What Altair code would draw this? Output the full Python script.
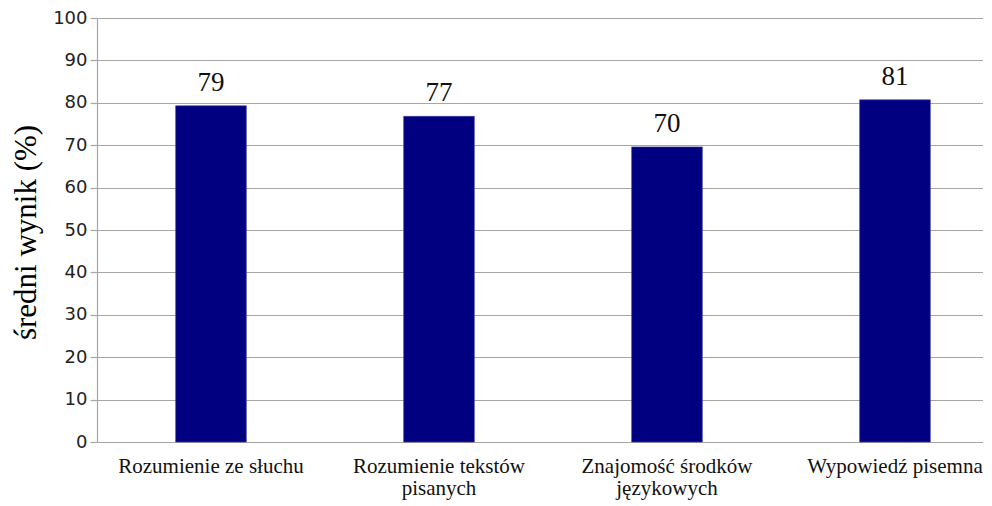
import altair as alt
import pandas as pd

categories = [
    "Rozumienie ze słuchu",
    "Rozumienie tekstów\npisanych",
    "Znajomość środków\njęzykowych",
    "Wypowiedź pisemna",
]
values = [79.3, 76.8, 69.6, 80.7]
labels = ["79", "77", "70", "81"]
y_ticks = list(range(0, 101, 10))

df = pd.DataFrame({"cat": categories, "val": values, "lab": labels})

x_scale = alt.Scale(range=[0, 912], paddingInner=0.69, paddingOuter=0.345)
y_scale = alt.Scale(domain=[0, 100], nice=False)

x_enc = alt.X(
    "cat:N",
    sort=categories,
    title=None,
    scale=x_scale,
    axis=alt.Axis(
        labelExpr="split(datum.label, '\\n')",
        labelAngle=0,
        domain=False,
        ticks=False,
        grid=False,
        labelFont="Liberation Serif",
        labelFontSize=21,
        labelColor="#111111",
        labelPadding=13,
        labelLineHeight=22,
        labelBaseline="top",
        labelLimit=400,
        labelOverlap=False,
    ),
)

y_enc = alt.Y(
    "val:Q",
    scale=y_scale,
    title="średni wynik (%)",
    axis=alt.Axis(
        values=y_ticks,
        grid=True,
        gridColor="#a6a6a6",
        gridWidth=1.2,
        domainColor="#a6a6a6",
        domainWidth=1.2,
        tickColor="#a6a6a6",
        tickWidth=1.2,
        tickSize=7,
        labelFont="DejaVu Sans",
        labelFontSize=18,
        labelColor="#222222",
        labelPadding=3,
        titleFont="Liberation Serif",
        titleFontSize=31,
        titleFontWeight="normal",
        titleColor="#000000",
        titleX=-62,
        titleY=214,
        titleBaseline="alphabetic",
        titleAngle=270,
    ),
)

base = alt.Chart(df).encode(x=x_enc, y=y_enc)

bars = base.mark_bar(color="#000080", stroke="#3a3aa0", strokeWidth=0.6)

text = base.mark_text(
    font="Liberation Serif",
    fontSize=27,
    color="#111111",
    baseline="alphabetic",
    dy=-15,
).encode(text="lab:N")

chart = (
    alt.layer(bars, text)
    .properties(
        width=886,
        height=424,
        autosize=alt.AutoSizeParams(type="none"),
        padding={"left": 89, "top": 10, "right": 0, "bottom": 60},
        background="#ffffff",
    )
    .configure_view(stroke=None)
    .configure_axisX(labelFont="Liberation Serif", labelFontSize=21, labelLimit=400)
    .configure_axisY(labelFont="DejaVu Sans", titleFont="Liberation Serif", titleFontSize=31)
)

chart.save("out.html", embed_options={"renderer": "svg", "actions": False})
